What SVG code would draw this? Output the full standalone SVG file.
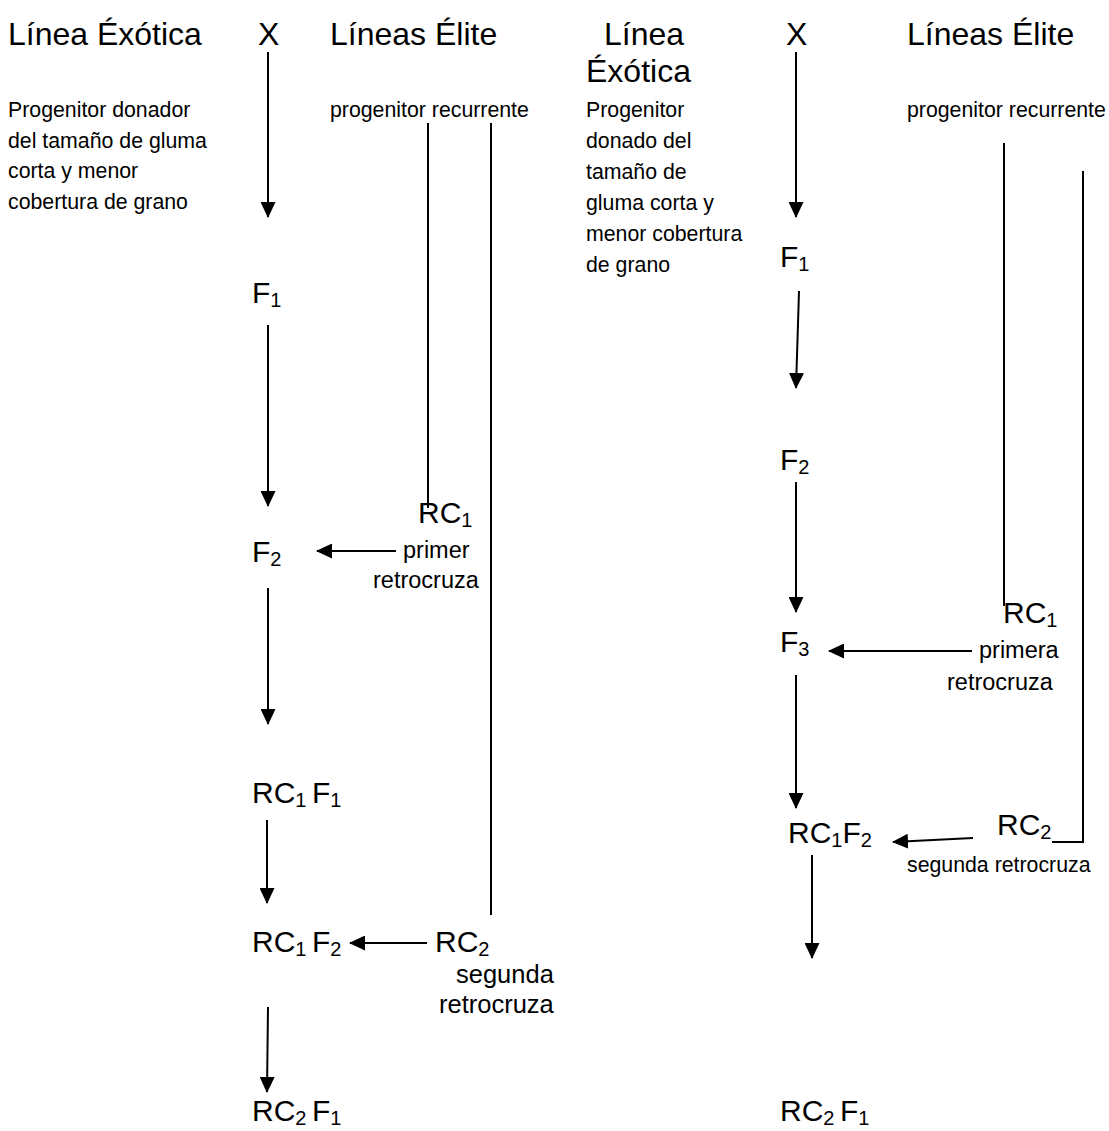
<svg xmlns="http://www.w3.org/2000/svg" width="1109" height="1131" viewBox="0 0 1109 1131">
<style>
text{font-family:"Liberation Sans",Arial,sans-serif;fill:#000}
.t{font-size:32px}
.l{font-size:30px}
.s{font-size:21.3px}
.m{font-size:23.5px}
.g{font-size:25.5px}
.sub{font-size:20px}
.c{stroke:#000;stroke-width:2;fill:none}
.a{marker-end:url(#ah)}
</style>
<defs>
<marker id="ah" markerUnits="userSpaceOnUse" markerWidth="16" markerHeight="15" refX="15" refY="7.5" orient="auto">
<path d="M0,0 L16,7.5 L0,15 z" fill="#000"/>
</marker>
</defs>
<rect width="1109" height="1131" fill="#fff"/>

<g id="left-exotica"><text class="t" x="8" y="45">Línea Éxótica</text>
<text class="s" x="8" y="117">Progenitor donador</text>
<text class="s" x="8" y="147.5">del tamaño de gluma</text>
<text class="s" x="8" y="178">corta y menor</text>
<text class="s" x="8" y="208.5">cobertura de grano</text></g>
<g id="left-x"><text class="t" x="258" y="45">X</text></g>
<g id="left-elite"><text class="t" x="330" y="45">Líneas Élite</text>
<text class="s" x="330" y="117">progenitor recurrente</text></g>
<g id="left-f1"><text class="l" x="252" y="303">F<tspan class="sub" dy="4">1</tspan></text></g>
<g id="left-f2"><text class="l" x="252" y="562">F<tspan class="sub" dy="4">2</tspan></text></g>
<g id="left-rc1"><text class="l" x="418" y="523">RC<tspan class="sub" dy="4">1</tspan></text>
<text class="m" x="403" y="558">primer</text>
<text class="m" x="373" y="588">retrocruza</text></g>
<g id="left-rc1f1"><text class="l" x="252" y="803">RC<tspan class="sub" dy="4">1 </tspan><tspan dy="-4">F</tspan><tspan class="sub" dy="4">1</tspan></text></g>
<g id="left-rc1f2"><text class="l" x="252" y="952">RC<tspan class="sub" dy="4">1 </tspan><tspan dy="-4">F</tspan><tspan class="sub" dy="4">2</tspan></text></g>
<g id="left-rc2"><text class="l" x="435" y="952">RC<tspan class="sub" dy="4">2</tspan></text>
<text class="g" x="456" y="983">segunda</text>
<text class="g" x="439" y="1013">retrocruza</text></g>
<g id="left-rc2f1"><text class="l" x="252" y="1121">RC<tspan class="sub" dy="4">2 </tspan><tspan dy="-4">F</tspan><tspan class="sub" dy="4">1</tspan></text></g>

<g id="right-exotica"><text class="t" x="604" y="45">Línea</text>
<text class="t" x="586" y="82">Éxótica</text>
<text class="s" x="586" y="117">Progenitor</text>
<text class="s" x="586" y="148">donado del</text>
<text class="s" x="586" y="179">tamaño de</text>
<text class="s" x="586" y="210">gluma corta y</text>
<text class="s" x="586" y="241">menor cobertura</text>
<text class="s" x="586" y="272">de grano</text></g>
<g id="right-x"><text class="t" x="786" y="45">X</text></g>
<g id="right-elite"><text class="t" x="907" y="45">Líneas Élite</text>
<text class="s" x="907" y="117">progenitor recurrente</text></g>
<g id="right-f1"><text class="l" x="780" y="267">F<tspan class="sub" dy="4">1</tspan></text></g>
<g id="right-f2"><text class="l" x="780" y="470">F<tspan class="sub" dy="4">2</tspan></text></g>
<g id="right-f3"><text class="l" x="780" y="652">F<tspan class="sub" dy="4">3</tspan></text></g>
<g id="right-rc1"><text class="l" x="1003" y="623">RC<tspan class="sub" dy="4">1</tspan></text>
<text class="m" x="979" y="658">primera</text>
<text class="m" x="947" y="690">retrocruza</text></g>
<g id="right-rc1f2"><text class="l" x="788" y="843">RC<tspan class="sub" dy="4">1</tspan><tspan dy="-4">F</tspan><tspan class="sub" dy="4">2</tspan></text></g>
<g id="right-rc2"><text class="l" x="997" y="835">RC<tspan class="sub" dy="4">2</tspan></text>
<text class="s" x="907" y="872">segunda retrocruza</text></g>
<g id="right-rc2f1"><text class="l" x="780" y="1121">RC<tspan class="sub" dy="4">2 </tspan><tspan dy="-4">F</tspan><tspan class="sub" dy="4">1</tspan></text></g>

<g id="connectors">
<line class="c a" x1="268" y1="52" x2="268" y2="217"/>
<line class="c a" x1="268" y1="325" x2="268" y2="506"/>
<line class="c" x1="428" y1="123" x2="428" y2="508"/>
<line class="c" x1="491" y1="123" x2="491" y2="915"/>
<line class="c a" x1="396" y1="551" x2="317" y2="551"/>
<line class="c a" x1="268" y1="588" x2="268" y2="724"/>
<line class="c a" x1="267" y1="820" x2="267" y2="903"/>
<line class="c a" x1="427" y1="943" x2="350" y2="943"/>
<line class="c a" x1="268" y1="1007" x2="267" y2="1092"/>

<line class="c a" x1="796" y1="52" x2="796" y2="217"/>
<line class="c a" x1="799" y1="291" x2="796" y2="388"/>
<line class="c a" x1="796" y1="482" x2="796" y2="612"/>
<line class="c" x1="1004" y1="143" x2="1004" y2="606"/>
<line class="c a" x1="972" y1="651" x2="829" y2="651"/>
<line class="c a" x1="796" y1="675" x2="796" y2="808"/>
<polyline class="c" points="1083,171 1083,842 1052,842"/>
<line class="c a" x1="973" y1="838" x2="893" y2="842"/>
<line class="c a" x1="812" y1="855" x2="812" y2="958"/>
</g>
</svg>
